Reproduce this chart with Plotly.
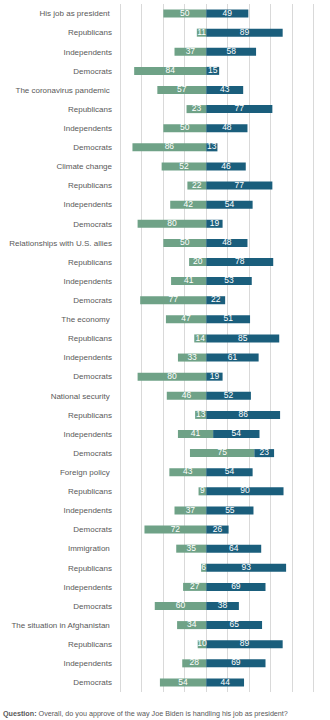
import plotly.graph_objects as go

categories = [
    "His job as president\u00a0", "Republicans", "Independents", "Democrats",
    "The coronavirus pandemic\u00a0", "Republicans", "Independents", "Democrats",
    "Climate change", "Republicans", "Independents", "Democrats",
    "Relationships with U.S. allies", "Republicans", "Independents", "Democrats",
    "The economy\u00a0", "Republicans", "Independents", "Democrats",
    "National security\u00a0", "Republicans", "Independents", "Democrats",
    "Foreign policy\u00a0", "Republicans", "Independents", "Democrats",
    "Immigration\u00a0", "Republicans", "Independents", "Democrats",
    "The situation in Afghanistan\u00a0", "Republicans", "Independents", "Democrats",
]
disapprove = [50, 11, 37, 84, 57, 23, 50, 86, 52, 22, 42, 80,
              50, 20, 41, 77, 47, 14, 33, 80, 46, 13, 41, 75,
              43, 9, 37, 72, 35, 6, 27, 60, 34, 10, 28, 54]
approve = [49, 89, 58, 15, 43, 77, 48, 13, 46, 77, 54, 19,
           48, 78, 53, 22, 51, 85, 61, 19, 52, 86, 54, 23,
           54, 90, 55, 26, 64, 93, 69, 38, 65, 89, 69, 44]
# where the original chart's bars do not meet at zero
offset = [0] * 22 + [8, 56] + [0] * 12

GREEN = "#6fa287"
BLUE = "#1a5e7c"

idx = list(range(len(categories)))
green_base = [o - d for o, d in zip(offset, disapprove)]

fig = go.Figure()
fig.add_trace(go.Bar(
    y=idx, x=disapprove, base=green_base, orientation="h",
    marker=dict(color=GREEN, line=dict(width=0)), width=0.42,
    hoverinfo="skip", showlegend=False))
fig.add_trace(go.Bar(
    y=idx, x=approve, base=offset, orientation="h",
    marker=dict(color=BLUE, line=dict(width=0)), width=0.42,
    hoverinfo="skip", showlegend=False))

fig.add_trace(go.Scatter(
    y=idx, x=[b + d / 2 for b, d in zip(green_base, disapprove)],
    text=[str(v) for v in disapprove], mode="text",
    textfont=dict(color="white", size=8.5, family="Liberation Sans"),
    hoverinfo="skip", showlegend=False))
fig.add_trace(go.Scatter(
    y=idx, x=[o + a / 2 for o, a in zip(offset, approve)],
    text=[str(v) for v in approve], mode="text",
    textfont=dict(color="white", size=8.5, family="Liberation Sans"),
    hoverinfo="skip", showlegend=False))

fig.update_layout(
    width=330, height=720,
    margin=dict(l=117, r=13, t=4, b=28),
    paper_bgcolor="white", plot_bgcolor="white",
    barmode="overlay",
    font=dict(family="Liberation Sans", color="#595959"),
    xaxis=dict(range=[-104, 129], tickvals=[-100, -75, -50, -25, 0, 25, 50, 75, 100, 125],
               showticklabels=False, showgrid=True, gridcolor="#d9d9d9", gridwidth=1,
               zeroline=False, showline=False, fixedrange=True),
    yaxis=dict(range=[35.5, -0.5], tickvals=idx, ticktext=categories,
               tickfont=dict(size=8.0, color="#595959"),
               showgrid=False, zeroline=False, showline=False,
               ticks="", ticklabelstandoff=4, fixedrange=True),
    annotations=[dict(
        text="<b>Question:</b> Overall, do you approve of the way Joe Biden is handling his job as president?",
        xref="paper", yref="paper", x=(1 - 117) / 200, y=-(713 - 692) / 688,
        xanchor="left", yanchor="middle", showarrow=False,
        font=dict(size=7.2, color="#595959", family="Liberation Sans"))],
)

fig.write_html("out.html")
